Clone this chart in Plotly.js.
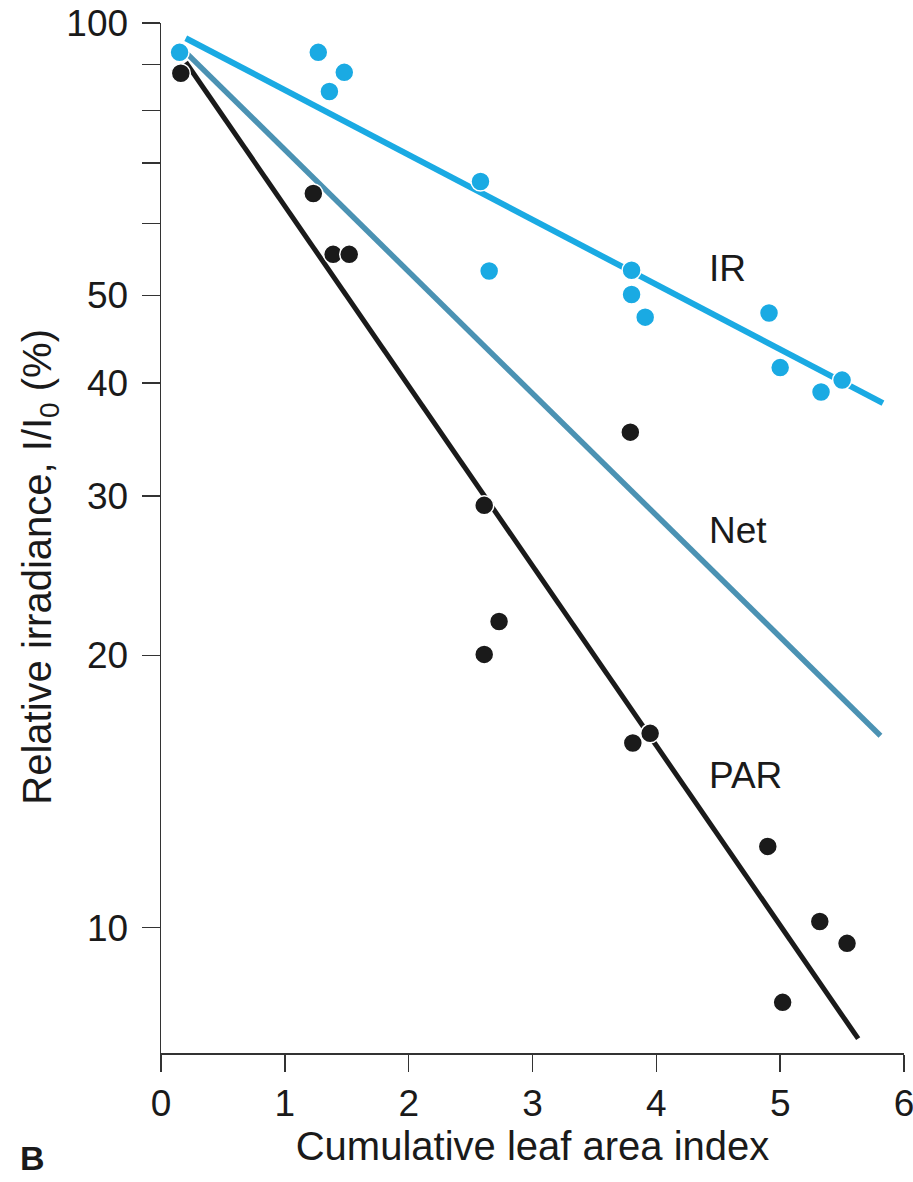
<!DOCTYPE html>
<html>
<head>
<meta charset="utf-8">
<script src="https://cdn.plot.ly/plotly-3.0.1.min.js"></script>
<style>html,body{margin:0;padding:0;background:#fff;}#chart{width:913px;height:1182px;}</style>
</head>
<body>
<div id="chart"></div>
<script>
// Measured points: IR (near-infrared) and PAR
var irX = [0.15, 1.27, 1.36, 1.48, 2.58, 2.65, 3.80, 3.80, 3.91, 4.91, 5.00, 5.33, 5.50];
var irY = [92.8, 92.8, 84.0, 88.2, 66.8, 53.2, 53.3, 50.1, 47.3, 47.8, 41.6, 39.1, 40.3];
var parX = [0.16, 1.23, 1.39, 1.52, 2.61, 2.73, 2.61, 3.79, 3.81, 3.95, 4.90, 5.32, 5.54, 5.02];
var parY = [88.0, 64.8, 55.5, 55.5, 29.3, 21.8, 20.05, 35.3, 16.0, 16.4, 12.3, 10.16, 9.61, 8.27];
// Fitted lines (end points)
var irFitX = [0.20, 5.83];
var irFitY = [96.2, 38.0];
var netFitX = [0.20, 5.81];
var netFitY = [92.8, 16.3];
var parFitX = [0.20, 5.63];
var parFitY = [90.5, 7.54];
// Axis ticks
var yTickVals = [10, 20, 30, 40, 50, 60, 70, 80, 90, 100];
var yTickText = ['10', '20', '30', '40', '50', '', '', '', '', '100'];
var xTickVals = [0, 1, 2, 3, 4, 5, 6];
var xTickText = ['0', '1', '2', '3', '4', '5', '6'];
// Line labels
var labelText = ['IR', 'Net', 'PAR'];
var labelX = [4.41, 4.41, 4.41];
var labelY = [53.6, 27.5, 14.73];
var panelLabel = 'B';
var xTitle = 'Cumulative leaf area index';
var yTitle = 'Relative irradiance, I/I<sub>0</sub> (%)';

var cIR = '#1aaae3', cNet = '#4b92b3', cPAR = '#1a1a1a';
var FONT = 'Liberation Sans, Arial, sans-serif';

var traces = [
  {x: irFitX, y: irFitY, mode: 'lines', line: {color: cIR, width: 6}, hoverinfo: 'skip'},
  {x: netFitX, y: netFitY, mode: 'lines', line: {color: cNet, width: 5.5}, hoverinfo: 'skip'},
  {x: parFitX, y: parFitY, mode: 'lines', line: {color: cPAR, width: 5}, hoverinfo: 'skip'},
  {x: irX, y: irY, mode: 'markers', marker: {color: cIR, size: 19, line: {color: '#fff', width: 1.5}}},
  {x: parX, y: parY, mode: 'markers', marker: {color: cPAR, size: 19, line: {color: '#fff', width: 1.5}}}
];

var annotations = labelText.map(function(t, i) {
  return {x: labelX[i], y: Math.log10(labelY[i]), xref: 'x', yref: 'y', text: t, showarrow: false,
          font: {family: FONT, size: 37, color: '#1a1a1a'}, xanchor: 'left', yanchor: 'middle'};
});
annotations.push({x: -0.1925, y: -0.102, xref: 'paper', yref: 'paper', text: '<b>' + panelLabel + '</b>', showarrow: false,
  font: {family: FONT, size: 34, color: '#1a1a1a'}, xanchor: 'left', yanchor: 'middle'});
annotations.push({x: -0.163, y: 0.472, xref: 'paper', yref: 'paper', text: yTitle, showarrow: false, textangle: -90,
  font: {family: FONT, size: 40, color: '#1a1a1a'}, xanchor: 'center', yanchor: 'middle'});

var layout = {
  width: 913, height: 1182,
  margin: {l: 161, r: 9, t: 23, b: 129},
  paper_bgcolor: '#fff', plot_bgcolor: '#fff',
  showlegend: false,
  font: {family: FONT, color: '#1a1a1a'},
  xaxis: {
    range: [0, 6], tickvals: xTickVals, ticktext: xTickText,
    showline: true, linecolor: '#333', linewidth: 1.5, mirror: false,
    ticks: 'outside', ticklen: 17, tickwidth: 1.5, tickcolor: '#333',
    showgrid: false, zeroline: false,
    tickfont: {family: FONT, size: 37, color: '#1a1a1a'},
    ticklabelstandoff: 0, ticklabeloverflow: 'allow',
    title: {text: xTitle, font: {family: FONT, size: 40, color: '#1a1a1a'}, standoff: 8}
  },
  yaxis: {
    type: 'log', range: [Math.log10(7.27), 2],
    tickvals: yTickVals, ticktext: yTickText,
    showline: true, linecolor: '#333', linewidth: 1.5, mirror: false,
    ticks: 'outside', ticklen: 18, tickwidth: 1.5, tickcolor: '#333',
    showgrid: false, zeroline: false,
    tickfont: {family: FONT, size: 37, color: '#1a1a1a'},
    ticklabelstandoff: 6, ticklabeloverflow: 'allow'
  },
  annotations: annotations
};

Plotly.newPlot('chart', traces, layout, {staticPlot: true, displayModeBar: false});
</script>
</body>
</html>
